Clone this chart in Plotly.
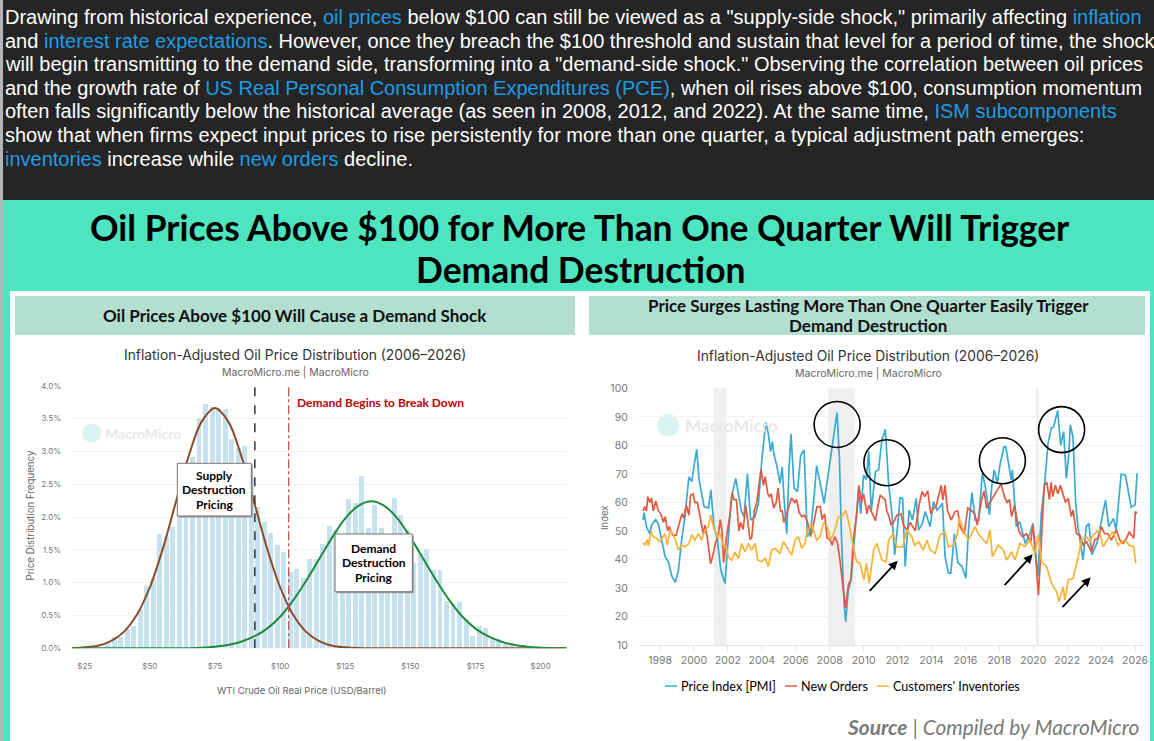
import plotly.graph_objects as go

W, H = 1154, 741

# ---------- left chart data ----------
hist_centers = [33.75,36.25,38.75,41.25,43.75,46.25,48.75,51.25,53.75,56.25,58.75,61.25,63.75,66.25,68.75,71.25,73.75,76.25,78.75,81.25,83.75,86.25,88.75,91.25,93.75,96.25,98.75,101.25,103.75,106.25,108.75,111.25,113.75,116.25,118.75,121.25,123.75,126.25,128.75,131.25,133.75,136.25,138.75,141.25,143.75,146.25,148.75,151.25,153.75,156.25,158.75,161.25,163.75,166.25,168.75,171.25,173.75,176.25,178.75,181.25,183.75,186.25,188.75,191.25]
hist_values = [0.08,0.17,0.18,0.30,0.35,0.60,0.96,1.08,1.74,1.70,1.85,2.30,2.75,2.92,3.52,3.72,3.68,3.66,3.65,3.20,3.05,3.08,2.60,2.15,1.93,1.76,1.58,1.47,1.16,1.21,1.08,1.37,1.37,1.60,1.86,1.80,1.75,2.28,2.22,2.63,1.83,2.18,1.83,1.70,2.30,2.03,1.80,1.30,1.45,1.52,1.20,1.20,0.72,0.70,0.71,0.45,0.19,0.35,0.31,0.15,0.14,0.07,0.09,0.03]
curve_x = [20,25,30,35,40,45,50,55,60,65,70,75,80,85,90,95,100,105,110,115,120,125,130,135,140,145,150,155,160,165,170,175,180,185,190,195,200,205,210]
supply_curve = [0.0,0.015,0.04,0.11,0.25,0.51,0.93,1.52,2.23,2.94,3.46,3.66,3.46,2.94,2.23,1.52,0.93,0.51,0.25,0.11,0.04,0.015,0.004,0,0,0,0,0,0,0,0,0,0,0,0,0,0,0,0]
demand_curve = [0,0,0,0,0,0,0,0,0,0.002,0.01,0.025,0.05,0.10,0.18,0.30,0.48,0.73,1.03,1.36,1.69,1.98,2.17,2.24,2.17,1.98,1.69,1.36,1.03,0.73,0.48,0.30,0.18,0.10,0.05,0.025,0.01,0.002,0]
supply_line_price = 90.3
demand_line_price = 103.3
price_ticks = [25, 50, 75, 100, 125, 150, 175, 200]
price_labels = ["$25", "$50", "$75", "$100", "$125", "$150", "$175", "$200"]
freq_ticks = [0, .5, 1, 1.5, 2, 2.5, 3, 3.5, 4]
freq_labels = ["0.0%", "0.5%", "1.0%", "1.5%", "2.0%", "2.5%", "3.0%", "3.5%", "4.0%"]

# ---------- right chart data ----------
pmi_x = [1997.0,1997.06,1997.2,1997.4,1997.5,1997.75,1997.9,1998.1,1998.3,1998.5,1998.7,1998.9,1999.08,1999.28,1999.47,1999.7,1999.87,2000.0,2000.16,2000.3,2000.45,2000.6,2000.85,2001.0,2001.18,2001.38,2001.58,2001.83,2002.03,2002.22,2002.46,2002.62,2002.8,2002.95,2003.15,2003.34,2003.6,2003.8,2004.0,2004.23,2004.38,2004.52,2004.62,2004.72,2004.88,2005.07,2005.2,2005.3,2005.47,2005.6,2005.72,2005.9,2006.1,2006.29,2006.49,2006.68,2006.88,2007.08,2007.23,2007.67,2007.86,2008.06,2008.22,2008.43,2008.57,2008.7,2008.85,2008.94,2009.1,2009.26,2009.5,2009.7,2009.83,2010.0,2010.16,2010.3,2010.45,2010.7,2010.88,2011.08,2011.28,2011.47,2011.67,2011.83,2012.02,2012.15,2012.3,2012.45,2012.68,2012.88,2013.1,2013.24,2013.47,2013.63,2013.92,2014.12,2014.32,2014.5,2014.65,2014.8,2015.0,2015.14,2015.35,2015.55,2015.8,2016.03,2016.18,2016.38,2016.58,2016.78,2017.0,2017.16,2017.42,2017.55,2017.7,2017.88,2018.03,2018.27,2018.38,2018.55,2018.7,2018.77,2019.0,2019.2,2019.53,2019.8,2019.98,2020.1,2020.27,2020.47,2020.67,2020.87,2021.06,2021.2,2021.36,2021.44,2021.61,2021.79,2021.95,2022.1,2022.18,2022.34,2022.5,2022.63,2022.93,2023.12,2023.28,2023.45,2023.75,2024.0,2024.26,2024.45,2024.73,2024.88,2025.18,2025.43,2025.57,2025.77,2026.0,2026.12]
pmi_y = [53.8,56.4,51.5,49,52,54,52.5,47,41,39,34,32,36,47,55,69,67.3,72.5,78.6,68,63,58.5,58,64.4,51.5,47,36.3,31.6,48,62,68.4,62.6,56.8,55,70,53.8,55,59.7,74.9,88,84.2,77.8,81.3,76.6,73,66.7,72.5,62,49,71.4,84,65,63.8,76.6,78.4,48,50.3,62,72.9,59.7,67.9,76,83.6,91.5,76,46.8,24.6,18.2,29.3,32.8,50.3,64.4,56,69.6,68,77.8,57,70.8,71.4,81.9,85.6,66.7,56,41.6,52.7,61.7,61.4,37.5,57.3,53.8,61.4,50.3,52.7,56.8,51.5,60.3,57.3,58.4,59.7,41,35.2,35.2,49,39,37.5,33.4,50.3,63.4,53.8,53.8,70.2,66,55.6,65.5,71.4,66.7,73,79.5,79.5,72.5,67.9,71.4,51.5,53.2,45.6,49,52.7,43.3,34,56,66.7,80.7,86,86.5,90.7,92.2,80.1,84.8,68.4,77.2,87.2,83,59.7,51.5,39.8,51.5,52.7,41.6,45.6,52.7,60.8,51.5,54.4,50.3,69.9,69.6,65,58.3,59.1,70.2]

orders_x = [1997.0,1997.1,1997.2,1997.28,1997.4,1997.5,1997.6,1997.75,1997.9,1998.05,1998.2,1998.3,1998.45,1998.55,1998.75,1998.95,1999.15,1999.3,1999.4,1999.55,1999.7,1999.8,1999.95,2000.05,2000.2,2000.3,2000.45,2000.55,2000.65,2000.8,2000.98,2001.1,2001.28,2001.42,2001.55,2001.65,2001.75,2001.9,2002.1,2002.25,2002.35,2002.5,2002.65,2002.75,2002.9,2003.05,2003.2,2003.3,2003.4,2003.55,2003.7,2003.85,2003.95,2004.1,2004.2,2004.35,2004.45,2004.55,2004.7,2004.85,2004.95,2005.1,2005.2,2005.3,2005.45,2005.65,2005.75,2005.95,2006.05,2006.2,2006.35,2006.5,2006.7,2006.88,2007.0,2007.1,2007.25,2007.45,2007.55,2007.7,2007.85,2008.0,2008.15,2008.3,2008.45,2008.6,2008.75,2008.93,2009.1,2009.25,2009.4,2009.6,2009.72,2009.88,2010.0,2010.1,2010.2,2010.3,2010.45,2010.6,2010.7,2010.85,2010.98,2011.15,2011.27,2011.37,2011.5,2011.63,2011.76,2011.96,2012.2,2012.35,2012.55,2012.75,2013.04,2013.29,2013.45,2013.6,2013.78,2013.96,2014.12,2014.27,2014.57,2014.67,2014.8,2014.94,2015.16,2015.39,2015.55,2015.69,2015.93,2016.14,2016.33,2016.55,2016.7,2016.95,2017.1,2017.25,2017.45,2017.7,2017.95,2018.1,2018.3,2018.45,2018.6,2018.72,2018.9,2019.0,2019.15,2019.35,2019.6,2019.85,2019.98,2020.1,2020.22,2020.3,2020.42,2020.55,2020.65,2020.8,2020.95,2021.05,2021.15,2021.3,2021.45,2021.6,2021.78,2021.9,2022.06,2022.25,2022.35,2022.55,2022.75,2022.94,2023.14,2023.43,2023.63,2023.82,2024.02,2024.2,2024.4,2024.6,2024.9,2025.1,2025.3,2025.5,2025.65,2025.92,2026.02,2026.12]
orders_y = [57,58.5,57,62,60,61.5,57,60.5,57,56,53,55,50,51.5,48.5,48.5,53,56,54.5,59,55.5,62.5,63,60,60,57,52,49,52,47,38.5,41,46,48,54,50,39,47,55,63.5,61,61,50,53,50.5,59,52,47,47.5,57,60,67,71.5,66,69,63,62,63,58,60,65,57,57,53,56,60,61.5,60,61,56.5,55,55.5,53,48,52,54,58.5,58.5,54,56,47.5,47,45,48,46,40,32,23,31,33,47,56,66,60,63,60,56,59,57,55,53.5,59,62.6,61.5,61,57,55,52,53,55.5,56,52,50.3,53,50,59.7,63.8,62,64,56,58,58.5,66,60.8,66,57.3,53.8,56.8,57,51.5,49,58,57.3,56,52,61,64,58,60,63,65,66.5,62,60,61,55,59,55,50,48,49,46,52,45,35,27.5,40,55,66,67,61,67,62,66,63,66,62,60,61.4,55,57.3,49,48.5,45,46.2,42.7,47,47.4,51.5,49,49,46.8,50.3,46.8,45.6,47.4,49.7,47.4,56.8,56.2]

inventory_x = [1997.0,1997.12,1997.25,1997.31,1997.47,1997.6,1997.8,1998.0,1998.29,1998.43,1998.59,1998.79,1998.94,1999.08,1999.28,1999.47,1999.71,1999.87,2000.06,2000.26,2000.45,2000.65,2000.85,2000.99,2001.18,2001.38,2001.54,2001.73,2001.93,2002.03,2002.22,2002.42,2002.62,2002.81,2003.01,2003.21,2003.4,2003.6,2003.76,2003.99,2004.19,2004.38,2004.58,2004.78,2005.07,2005.27,2005.47,2005.76,2005.96,2006.15,2006.35,2006.55,2006.68,2006.94,2007.23,2007.43,2007.63,2007.86,2008.06,2008.31,2008.51,2008.71,2008.94,2009.16,2009.39,2009.59,2009.79,2010.02,2010.16,2010.33,2010.59,2010.78,2011.08,2011.33,2011.47,2011.76,2011.96,2012.31,2012.55,2012.84,2013.0,2013.24,2013.53,2013.73,2013.92,2014.22,2014.51,2014.8,2015.0,2015.29,2015.53,2015.63,2015.88,2016.18,2016.57,2016.76,2017.25,2017.45,2017.59,2017.94,2018.24,2018.43,2018.73,2018.92,2019.22,2019.5,2019.8,2020.1,2020.29,2020.49,2020.78,2021.08,2021.37,2021.51,2021.76,2021.86,2022.06,2022.35,2022.65,2022.84,2023.14,2023.33,2023.53,2023.9,2024.12,2024.41,2024.7,2025.0,2025.39,2025.65,2025.92,2026.04]
inventory_y = [45.9,45,47,44.7,49.7,48,47.4,46.2,49,45,50.3,48.6,46.2,43.3,45,44.4,45.6,48.6,46.8,49,46.8,50.3,51.5,55.6,50.8,47.9,49,45,43.8,40.9,39.7,42.6,40.3,45.6,42.7,45.6,43.3,45.6,39.8,39.2,40.4,37.5,43.3,43.9,42.1,46.2,44.4,41.5,46.8,48,43.9,45.6,50.3,52,46.8,48,52.7,51.5,46.8,50.3,55,55,57.3,52,44.4,39.2,38.6,32.8,38.6,31.6,43.3,45.6,39.8,39.2,46.8,49,44.4,44.4,50.3,48,45,46.2,43.3,46.8,43.3,42.1,48.6,49.7,44.4,45,48.6,54.4,50.3,46.8,51.5,49,45.6,50.3,41,45,43.3,39.8,42.7,39.8,45.6,44.5,46.8,42.1,48.6,39.2,37.5,31.6,28.7,25.2,30.4,25.8,32.8,33.4,41,46.8,48,46.2,48.6,50.3,44.4,47.4,49.7,45,46.8,45,44.4,38.6]

recession_starts = [2001.18, 2007.92, 2020.16]
recession_ends = [2001.93, 2009.5, 2020.33]
circle_years = [2008.44, 2011.37, 2018.18, 2021.67]
circle_levels = [87.3, 73.9, 74.6, 85.5]

series_names = ["Price Index [PMI]", "New Orders", "Customers' Inventories"]
series_colors = ["#3aa9d4", "#e05a42", "#f6b335"]

BLUE = "#1b9ce6"
def link(s):
    return f'<span style="color:{BLUE}">{s}</span>'
intro_lines = [
    f'Drawing from historical experience, {link("oil prices")} below $100 can still be viewed as a "supply-side shock," primarily affecting {link("inflation")}',
    f'and {link("interest rate expectations")}. However, once they breach the $100 threshold and sustain that level for a period of time, the shock',
    'will begin transmitting to the demand side, transforming into a "demand-side shock." Observing the correlation between oil prices',
    f'and the growth rate of {link("US Real Personal Consumption Expenditures (PCE)")}, when oil rises above $100, consumption momentum',
    f'often falls significantly below the historical average (as seen in 2008, 2012, and 2022). At the same time, {link("ISM subcomponents")}',
    'show that when firms expect input prices to rise persistently for more than one quarter, a typical adjustment path emerges:',
    f'{link("inventories")} increase while {link("new orders")} decline.',
]
intro_y = [17, 40.5, 64, 87.5, 111, 135, 159]

def px(x): return x / W
def py(y): return 1 - y / H

shapes, notes = [], []
def rect(x0, y0, x1, y1, fill, line=None, lw=0):
    shapes.append(dict(type="rect", xref="paper", yref="paper", x0=px(x0), x1=px(x1), y0=py(y1), y1=py(y0),
                       fillcolor=fill, line=dict(color=line or fill, width=lw), layer="below"))
def text(x, y, s, size, color="#000", family="Lato", anchor="center", yanchor="middle", angle=0):
    notes.append(dict(xref="paper", yref="paper", x=px(x), y=py(y), text=s, showarrow=False, xanchor=anchor,
                      yanchor=yanchor, textangle=angle, font=dict(size=size, color=color, family=family),
                      align="center", borderpad=0))

# page blocks
rect(0, 0, W, 201, "#252525")
rect(0, 0, 3, H, "#b5b5b5")
rect(3, 200, W, H, "#4de5c0")
rect(10, 291, 1150, H, "#ffffff")
rect(15, 296, 575, 335, "#b3dfd1")
rect(589, 296, 1145, 335, "#b3dfd1")

for s, y in zip(intro_lines, intro_y):
    text(4, y, s, 20, "#ffffff", "Liberation Sans", "left")

text(580, 227, "<b>Oil Prices Above $100 for More Than One Quarter Will Trigger</b>", 35.4)
text(580, 269, "<b>Demand Destruction</b>", 35.4)
text(295, 315, "<b>Oil Prices Above $100 Will Cause a Demand Shock</b>", 17, "#111")
text(868, 305, "<b>Price Surges Lasting More Than One Quarter Easily Trigger</b>", 17, "#111")
text(868, 325, "<b>Demand Destruction</b>", 17, "#111")

TITLE = "Inflation-Adjusted Oil Price Distribution (2006–2026)"
for cx, ty in ((295, 355), (868, 356)):
    text(cx, ty, TITLE, 13.8, "#333333", "Inter")
    text(cx, ty + 17, "MacroMicro.me | MacroMicro", 10.5, "#666666", "Inter")

# watermarks
for cx, cy, tx, size in ((91.7, 433, 104, 14), (668, 425, 684, 17)):
    r = 9.5 if size == 14 else 11
    shapes.append(dict(type="circle", xref="paper", yref="paper", x0=px(cx - r), x1=px(cx + r),
                       y0=py(cy + r), y1=py(cy - r), fillcolor="#d8f4ee", line=dict(width=0), layer="below"))
    text(tx, cy, "<b>MacroMicro</b>", size, "#e8e8e8", "Lato", "left")

# axis titles and labels
text(30, 515.5, "Price Distribution Frequency", 9.7, "#666666", "Inter", angle=-90)
text(302, 690, "WTI Crude Oil Real Price (USD/Barrel)", 9.5, "#666666", "Inter")
text(296, 402, "<b>Demand Begins to Break Down</b>", 12, "#c00000", "Lato", "left")
text(604, 518, "Index", 9.5, "#666666", "Inter", angle=-90)

# labelled boxes
for x0, y0, x1, y1, lines in ((177.3, 463.3, 251.3, 516, ["Supply", "Destruction", "Pricing"]),
                              (335, 534, 412.3, 591.7, ["Demand", "Destruction", "Pricing"])):
    for dx, col, lw in ((1.5, "#9a9a9a", 0), (0, "#ffffff", 1)):
        shapes.append(dict(type="rect", xref="paper", yref="paper", x0=px(x0 + dx), x1=px(x1 + dx),
                           y0=py(y1 + dx), y1=py(y0 + dx), fillcolor=col, layer="above",
                           line=dict(color="#777777", width=lw)))
    cy = (y0 + y1) / 2
    for k, s in enumerate(lines):
        text((x0 + x1) / 2, cy + (k - 1) * 14.5, f"<b>{s}</b>", 12)

# legend row
leg_y = 686
leg_pos = [(665, 680), (785, 800), (877, 892)]
for (lx, tx), name, col in zip(leg_pos, series_names, series_colors):
    shapes.append(dict(type="line", xref="paper", yref="paper", x0=px(lx), x1=px(lx + 12), y0=py(leg_y), y1=py(leg_y),
                       line=dict(color=col, width=1.5)))
    text(tx, leg_y, f"{name}", 12.6, "#000000", "Lato", "left")

text(1140, 726, '<b><i>Source</i></b><i> | Compiled by MacroMicro</i>', 20.9, "#7a7a7a", "Lato", "right")

# arrows
arrow_tails = [(868.3, 592.3), (1003.3, 586.7), (1061, 608.7)]
arrow_heads = [(897.7, 560.7), (1032.7, 554.3), (1090.7, 577.3)]
for (tx, ty), (hx, hy) in zip(arrow_tails, arrow_heads):
    notes.append(dict(xref="paper", yref="paper", x=px(hx), y=py(hy), axref="pixel", ayref="pixel",
                      ax=tx - hx, ay=ty - hy, text="", showarrow=True, arrowhead=2, arrowsize=1,
                      arrowwidth=1.8, arrowcolor="#000000"))

# data-linked shapes
for a, b in zip(recession_starts, recession_ends):
    shapes.append(dict(type="rect", xref="x2", yref="y2", x0=a, x1=b, y0=10, y1=100,
                       fillcolor="#efefef", line=dict(width=0), layer="below"))
for yr, lvl in zip(circle_years, circle_levels):
    shapes.append(dict(type="circle", xref="x2", yref="y2", x0=yr - 1.356, x1=yr + 1.356, y0=lvl - 8.06, y1=lvl + 8.06,
                       line=dict(color="#000000", width=1.6), fillcolor="rgba(0,0,0,0)", layer="above"))
shapes.append(dict(type="line", xref="x", yref="y", x0=supply_line_price, x1=supply_line_price, y0=0, y1=4,
                   line=dict(color="#333333", width=1.5, dash="dash"), layer="above"))
shapes.append(dict(type="line", xref="x", yref="y", x0=demand_line_price, x1=demand_line_price, y0=0, y1=4,
                   line=dict(color="#c8403f", width=1.2, dash="dashdot"), layer="above"))

fig = go.Figure()
fig.add_trace(go.Bar(x=hist_centers, y=hist_values, width=1.9, marker=dict(color="#c5e2ee", line=dict(width=0)),
                     showlegend=False, hoverinfo="skip", xaxis="x", yaxis="y"))
fig.add_trace(go.Scatter(x=curve_x, y=supply_curve, mode="lines", line=dict(color="#8a4b2a", width=2, shape="spline"),
                         showlegend=False, xaxis="x", yaxis="y"))
fig.add_trace(go.Scatter(x=curve_x, y=demand_curve, mode="lines", line=dict(color="#1f8a3b", width=2, shape="spline"),
                         showlegend=False, xaxis="x", yaxis="y"))
for xs, ys, name, col in zip((pmi_x, orders_x, inventory_x), (pmi_y, orders_y, inventory_y), series_names, series_colors):
    fig.add_trace(go.Scatter(x=xs, y=ys, mode="lines", name=name, line=dict(color=col, width=1.7),
                             showlegend=False, xaxis="x2", yaxis="y2"))

GRID = "#f1f1f1"
TICK = "#777777"
HIDE = "rgba(0,0,0,0)"
fig.update_layout(
    width=W, height=H, margin=dict(l=0, r=0, t=0, b=0, autoexpand=False), paper_bgcolor="#ffffff", plot_bgcolor="rgba(0,0,0,0)",
    showlegend=False, shapes=shapes, annotations=notes, bargap=0, font=dict(family="Inter"),
    xaxis=dict(domain=[px(71.7), px(566.7)], range=[20, 210], tickvals=price_ticks, ticktext=price_labels,
               showgrid=False, zeroline=False, showline=False, ticks="outside", ticklen=10, tickcolor=HIDE, automargin=False,
               tickfont=dict(size=8, color=TICK), anchor="y"),
    yaxis=dict(domain=[py(648.3), py(385.7)], range=[0, 4], tickvals=freq_ticks, ticktext=freq_labels,
               gridcolor=GRID, zeroline=False, showline=False, ticks="outside", ticklen=8, tickcolor=HIDE, automargin=False,
               tickfont=dict(size=8, color=TICK), anchor="x"),
    xaxis2=dict(domain=[px(639), px(1142.7)], range=[1996.76, 2026.45], tickvals=list(range(1998, 2027, 2)),
                tickformat="d", showgrid=False, zeroline=False, showline=True, linecolor="#dfe5ee", linewidth=1,
                ticks="outside", ticklen=5, tickcolor="#dfe5ee", automargin=False,
                tickfont=dict(size=10.5, color=TICK), anchor="y2"),
    yaxis2=dict(domain=[py(645), py(388.3)], range=[10, 100], tickvals=list(range(10, 101, 10)),
                gridcolor=GRID, zeroline=False, showline=False, ticks="outside", ticklen=8, tickcolor=HIDE, automargin=False,
                tickfont=dict(size=10.5, color=TICK), anchor="x2"),
)
fig.write_html("out.html", config={"displayModeBar": False},
               post_script="document.body.style.margin='0';document.documentElement.style.overflow='hidden';")
